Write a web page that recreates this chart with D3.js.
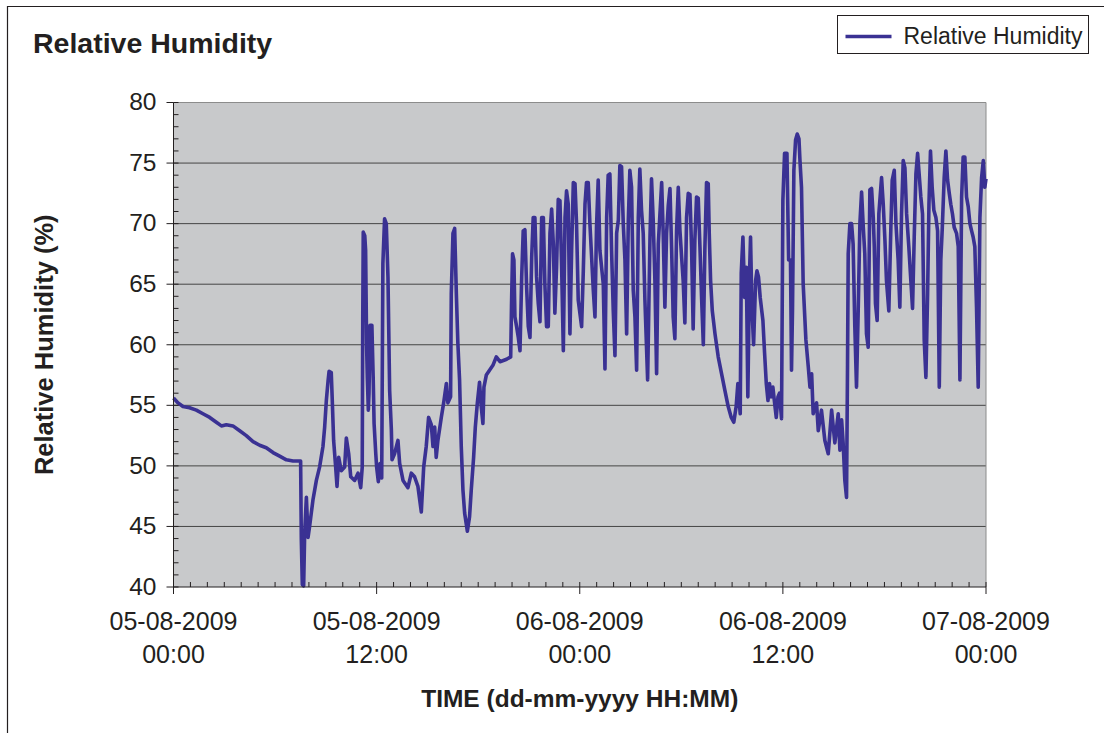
<!DOCTYPE html>
<html>
<head>
<meta charset="utf-8">
<script src="https://cdn.jsdelivr.net/npm/d3@7"></script>
<style>
    body { margin: 0; background: #fff; }
    svg text { font-family: "Liberation Sans", Arial, sans-serif; fill: #231f20; }
</style>
</head>
<body>
<div id="chart"></div>
<script>
// ------------------------------------------------------------
//  Relative humidity logger trace, 05-08-2009 -> 07-08-2009
// ------------------------------------------------------------

const seriesName = 'Relative Humidity';
const startTime = new Date(2009, 7, 5, 0, 0);

// hours since 05-08-2009 00:00
const hoursFromStart = [
    0.00, 0.27, 0.56, 0.95, 1.35, 1.74, 2.14, 2.53, 2.83, 3.12,
    3.51, 3.91, 4.30, 4.70, 5.09, 5.48, 5.88, 6.27, 6.67, 7.06,
    7.51, 7.55, 7.61, 7.69, 7.75, 7.85, 7.95, 8.04, 8.14, 8.24,
    8.34, 8.44, 8.63, 8.83, 8.93, 9.03, 9.13, 9.19, 9.32, 9.38,
    9.46, 9.58, 9.66, 9.76, 9.91, 10.11, 10.21, 10.35, 10.47, 10.70,
    10.90, 11.06, 11.15, 11.18, 11.21, 11.30, 11.35, 11.41, 11.45, 11.51,
    11.55, 11.61, 11.72, 11.80, 11.85, 11.95, 12.00, 12.10, 12.20, 12.30,
    12.37, 12.47, 12.57, 12.67, 12.77, 12.87, 12.91, 13.06, 13.26, 13.36,
    13.56, 13.85, 14.05, 14.24, 14.44, 14.64, 14.78, 14.93, 15.07, 15.23,
    15.33, 15.43, 15.52, 15.62, 15.82, 15.96, 16.12, 16.21, 16.37, 16.41,
    16.51, 16.61, 16.71, 16.80, 16.90, 17.00, 17.10, 17.20, 17.36, 17.49,
    17.59, 17.73, 17.83, 17.95, 18.08, 18.18, 18.28, 18.34, 18.48, 18.67,
    18.87, 19.07, 19.29, 19.68, 19.92, 19.97, 20.03, 20.11, 20.17, 20.27,
    20.37, 20.47, 20.57, 20.66, 20.76, 20.86, 20.96, 21.06, 21.16, 21.25,
    21.35, 21.45, 21.55, 21.65, 21.75, 21.85, 21.94, 22.04, 22.14, 22.24,
    22.34, 22.44, 22.53, 22.63, 22.73, 22.83, 22.93, 23.03, 23.13, 23.22,
    23.32, 23.42, 23.52, 23.62, 23.72, 23.81, 23.91, 24.11, 24.21, 24.31,
    24.40, 24.50, 24.60, 24.80, 24.90, 24.99, 25.09, 25.19, 25.39, 25.49,
    25.59, 25.68, 25.78, 25.88, 25.98, 26.08, 26.18, 26.28, 26.37, 26.47,
    26.57, 26.67, 26.77, 26.87, 26.96, 27.06, 27.16, 27.26, 27.36, 27.46,
    27.55, 27.65, 27.75, 27.85, 28.01, 28.15, 28.24, 28.34, 28.44, 28.54,
    28.64, 28.84, 28.93, 29.03, 29.13, 29.23, 29.33, 29.43, 29.52, 29.62,
    29.72, 29.82, 29.92, 30.02, 30.11, 30.21, 30.31, 30.41, 30.51, 30.61,
    30.70, 30.80, 30.90, 31.00, 31.10, 31.20, 31.30, 31.39, 31.49, 31.59,
    31.65, 31.73, 31.83, 31.99, 32.18, 32.38, 32.58, 32.77, 32.95, 33.10,
    33.24, 33.34, 33.48, 33.54, 33.64, 33.74, 33.84, 33.93, 34.03, 34.09,
    34.17, 34.27, 34.39, 34.47, 34.56, 34.66, 34.82, 34.92, 35.02, 35.12,
    35.21, 35.31, 35.41, 35.51, 35.61, 35.71, 35.80, 35.92, 36.00, 36.10,
    36.24, 36.34, 36.45, 36.51, 36.57, 36.65, 36.75, 36.85, 36.95, 37.01,
    37.10, 37.20, 37.36, 37.50, 37.60, 37.70, 37.79, 37.89, 37.99, 38.09,
    38.28, 38.48, 38.68, 38.88, 39.07, 39.27, 39.37, 39.47, 39.56, 39.66,
    39.76, 39.82, 39.86, 39.96, 40.06, 40.15, 40.25, 40.35, 40.45, 40.55,
    40.65, 40.75, 40.84, 40.94, 41.04, 41.14, 41.24, 41.34, 41.40, 41.47,
    41.57, 41.67, 41.83, 41.93, 42.03, 42.12, 42.26, 42.38, 42.46, 42.58,
    42.68, 42.81, 42.91, 43.01, 43.11, 43.21, 43.31, 43.44, 43.56, 43.66,
    43.76, 43.86, 43.96, 44.05, 44.15, 44.25, 44.35, 44.45, 44.55, 44.63,
    44.72, 44.82, 44.92, 45.04, 45.14, 45.24, 45.33, 45.41, 45.53, 45.63,
    45.73, 45.83, 45.92, 46.02, 46.12, 46.26, 46.36, 46.46, 46.56, 46.65,
    46.75, 46.85, 46.95, 47.05, 47.15, 47.24, 47.34, 47.44, 47.54, 47.64,
    47.74, 47.84, 47.93, 48.00
];

// relative humidity (%) at each of those times
const relHumidity = [
    55.6, 55.2, 54.9, 54.8, 54.6, 54.3, 54.0, 53.6, 53.3, 53.4,
    53.3, 52.9, 52.5, 52.0, 51.7, 51.5, 51.1, 50.8, 50.5, 50.4,
    50.4, 44.0, 40.2, 40.1, 44.5, 47.4, 44.1, 45.0, 46.1, 47.2,
    48.0, 48.8, 49.9, 51.6, 53.2, 55.4, 57.0, 57.8, 57.7, 55.4,
    52.1, 49.9, 48.3, 50.7, 49.6, 49.9, 52.3, 51.0, 49.1, 48.8,
    49.4, 48.2, 49.9, 62.0, 69.3, 69.0, 67.8, 59.8, 57.3, 54.6,
    56.0, 61.6, 61.6, 57.1, 53.5, 51.0, 49.9, 48.7, 50.2, 49.0,
    66.7, 70.4, 70.0, 65.6, 56.2, 53.0, 50.5, 51.0, 52.1, 50.2,
    48.8, 48.2, 49.4, 49.1, 48.3, 46.2, 49.9, 51.6, 54.0, 53.4,
    51.6, 53.2, 50.7, 52.1, 54.0, 55.2, 56.8, 55.2, 55.7, 64.2,
    69.2, 69.6, 64.2, 60.1, 57.1, 51.6, 48.0, 46.1, 44.6, 45.8,
    48.0, 50.7, 53.2, 55.2, 56.9, 54.9, 53.5, 56.5, 57.5, 57.9,
    58.3, 59.0, 58.6, 58.8, 59.0, 63.4, 67.5, 67.0, 62.3, 61.5,
    60.6, 59.5, 65.6, 69.4, 69.5, 64.8, 61.5, 60.6, 67.2, 70.5,
    70.5, 65.6, 63.4, 61.9, 70.5, 70.5, 65.0, 61.5, 61.5, 69.2,
    71.2, 68.3, 62.6, 66.4, 72.0, 71.9, 66.4, 59.5, 70.5, 72.7,
    71.6, 60.9, 67.8, 73.4, 73.3, 70.0, 63.7, 61.5, 66.1, 71.6,
    73.4, 73.4, 70.0, 64.5, 62.3, 69.7, 73.6, 67.8, 65.0, 58.0,
    70.5, 74.0, 74.1, 67.8, 62.8, 59.1, 69.2, 70.3, 74.8, 74.7,
    70.0, 67.0, 60.9, 70.3, 74.4, 73.0, 64.5, 62.3, 57.9, 70.5,
    74.5, 71.1, 69.2, 63.7, 57.1, 68.9, 73.7, 70.3, 65.3, 57.6,
    68.3, 73.4, 69.2, 63.1, 69.2, 71.5, 72.9, 67.8, 62.3, 60.5,
    69.4, 73.0, 69.4, 67.2, 65.3, 61.8, 70.5, 72.5, 72.4, 67.8,
    61.3, 68.6, 72.2, 72.1, 68.1, 63.8, 60.0, 67.8, 73.4, 73.3,
    69.2, 65.3, 62.8, 60.9, 59.0, 57.6, 56.2, 54.9, 54.0, 53.6,
    54.9, 56.8, 54.3, 65.9, 68.9, 63.9, 66.4, 55.7, 65.9, 68.9,
    63.1, 60.0, 65.3, 66.1, 65.6, 63.9, 62.0, 59.3, 56.8, 55.4,
    56.8, 55.7, 56.5, 55.2, 54.0, 55.7, 56.0, 53.9, 71.9, 75.8,
    75.8, 67.0, 67.0, 57.9, 63.0, 74.4, 76.9, 77.4, 77.0, 75.2,
    73.0, 65.0, 60.4, 58.2, 56.5, 57.6, 54.3, 54.9, 55.2, 52.9,
    54.6, 52.1, 51.0, 54.6, 51.9, 54.3, 51.3, 53.8, 51.9, 48.8,
    47.4, 58.4, 67.5, 70.0, 70.0, 68.3, 61.5, 56.5, 62.8, 70.0,
    72.6, 69.7, 67.5, 60.9, 59.8, 72.8, 72.9, 70.5, 68.1, 63.4,
    62.0, 70.8, 73.8, 71.6, 68.6, 65.3, 62.8, 69.7, 73.6, 74.4,
    70.0, 67.0, 63.1, 70.8, 75.2, 74.6, 70.8, 68.1, 65.3, 63.0,
    68.9, 74.1, 75.8, 74.1, 72.2, 70.8, 60.4, 57.3, 64.2, 71.6,
    76.0, 73.0, 71.1, 70.5, 69.4, 56.5, 67.0, 69.4, 73.8, 76.0,
    73.6, 72.5, 71.6, 70.8, 69.7, 69.2, 68.1, 57.1, 72.2, 75.5,
    75.5, 72.2, 71.4, 70.0, 69.4, 68.9, 68.1, 63.1, 56.5, 70.5,
    73.8, 75.2, 73.0, 73.7
];

const yTicks = [40, 45, 50, 55, 60, 65, 70, 75, 80];
const xTickDates = ['05-08-2009', '05-08-2009', '06-08-2009', '06-08-2009', '07-08-2009'];
const xTickTimes = ['00:00', '12:00', '00:00', '12:00', '00:00'];

const LINE_COLOR = '#3a3193';
const INK = '#231f20';

function renderChart() {
    const W = 1104, H = 733;
    const margin = { top: 102.5, left: 173.5 };
    const width = 812.5;
    const height = 484.5;

    const svg = d3.select('#chart').append('svg')
        .attr('width', W)
        .attr('height', H);

    // outer frame of the chart object
    svg.append('path')
        .attr('d', `M7.5,${H}V6.5H${W}`)
        .attr('fill', 'none')
        .attr('stroke', INK)
        .attr('stroke-width', 1.2);

    // --- Data ---
    const parseTick = d3.timeParse('%d-%m-%Y %H:%M');
    const xTickValues = xTickDates.map((d, i) => parseTick(d + ' ' + xTickTimes[i]));
    const data = hoursFromStart.map((h, i) => ({
        t: new Date(+startTime + h * 3600e3),
        v: relHumidity[i]
    }));

    // --- Scales ---
    const x = d3.scaleTime()
        .domain(d3.extent(xTickValues))
        .range([0, width]);

    const y = d3.scaleLinear()
        .domain(d3.extent(yTicks))
        .range([height, 0]);

    const g = svg.append('g')
        .attr('transform', `translate(${margin.left},${margin.top})`);

    // --- Plot area ---
    g.append('rect')
        .attr('width', width)
        .attr('height', height)
        .attr('fill', '#c8c9cb');

    g.selectAll('.grid')
        .data(yTicks.slice(1, -1))
        .enter().append('line')
        .attr('x1', 0).attr('x2', width)
        .attr('y1', d => y(d)).attr('y2', d => y(d))
        .attr('stroke', '#454545')
        .attr('stroke-width', 1);

    g.append('path')
        .attr('d', `M0,0H${width}V${height}`)
        .attr('fill', 'none')
        .attr('stroke', '#8c8c8c');

    // --- Series ---
    const line = d3.line()
        .x(d => x(d.t))
        .y(d => y(d.v));

    g.append('path')
        .datum(data)
        .attr('d', line)
        .attr('fill', 'none')
        .attr('stroke', LINE_COLOR)
        .attr('stroke-width', 3.6)
        .attr('stroke-linejoin', 'round');

    // --- Axes ---
    // minor ticks point inwards
    g.append('g')
        .call(d3.axisLeft(y).tickValues(d3.range(40, 81, 1)).tickSize(-5).tickSizeOuter(0).tickFormat('').offset(0))
        .call(a => a.select('.domain').remove())
        .selectAll('line').attr('stroke', INK);

    const yAxis = g.append('g')
        .call(d3.axisLeft(y).tickValues(yTicks).tickSize(7).tickSizeOuter(0).tickPadding(10).offset(0));
    yAxis.selectAll('path, line').attr('stroke', INK);
    yAxis.selectAll('text')
        .attr('font-family', null)
        .style('font-size', '24.5px')
        .attr('fill', INK);

    g.append('g')
        .attr('transform', `translate(0,${height})`)
        .call(d3.axisBottom(x).ticks(d3.timeHour.every(1)).tickSize(-5).tickSizeOuter(0).tickFormat('').offset(0))
        .call(a => a.select('.domain').remove())
        .selectAll('line').attr('stroke', INK);

    const xAxis = g.append('g')
        .attr('transform', `translate(0,${height})`)
        .call(d3.axisBottom(x).tickValues(xTickValues).tickSize(7).tickSizeOuter(0).tickFormat('').offset(0));
    xAxis.selectAll('path, line').attr('stroke', INK);

    xTickValues.forEach((t, i) => {
        const label = g.append('text')
            .attr('x', x(t))
            .attr('y', height + 43)
            .attr('text-anchor', 'middle')
            .style('font-size', '25px');
        label.append('tspan').attr('x', x(t)).text(xTickDates[i]);
        label.append('tspan').attr('x', x(t)).attr('dy', 33).text(xTickTimes[i]);
    });

    // --- Titles ---
    svg.append('text')
        .attr('x', 33)
        .attr('y', 53)
        .style('font-size', '28.5px')
        .style('font-weight', 'bold')
        .text('Relative Humidity');

    svg.append('text')
        .attr('x', margin.left + width / 2)
        .attr('y', 707)
        .attr('text-anchor', 'middle')
        .style('font-size', '24.5px')
        .style('font-weight', 'bold')
        .text('TIME (dd-mm-yyyy HH:MM)');

    svg.append('text')
        .attr('transform', `translate(53,${margin.top + height / 2}) rotate(-90)`)
        .attr('text-anchor', 'middle')
        .style('font-size', '25.5px')
        .style('font-weight', 'bold')
        .text('Relative Humidity (%)');

    // --- Legend ---
    const legend = svg.append('g').attr('transform', 'translate(837.5,15.5)');
    legend.append('rect')
        .attr('width', 251)
        .attr('height', 38)
        .attr('fill', '#fff')
        .attr('stroke', INK);
    legend.append('line')
        .attr('x1', 8).attr('x2', 54)
        .attr('y1', 21).attr('y2', 21)
        .attr('stroke', LINE_COLOR)
        .attr('stroke-width', 3.6);
    legend.append('text')
        .attr('x', 66)
        .attr('y', 28)
        .style('font-size', '23px')
        .text(seriesName);
}

renderChart();
</script>
</body>
</html>
